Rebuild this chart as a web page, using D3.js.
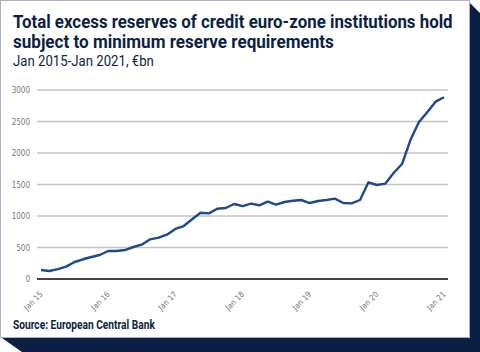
<!DOCTYPE html>
<html>
<head>
<meta charset="utf-8">
<script src="https://cdn.jsdelivr.net/npm/d3@7"></script>
<style>
  body { margin: 0; background: #fff; }
  svg { display: block; }
</style>
</head>
<body>
<div id="chart-area"></div>
<script>
// Data: excess reserves per maintenance period (8 per year), EUR bn
const yearLabels = ['Jan 15', 'Jan 16', 'Jan 17', 'Jan 18', 'Jan 19', 'Jan 20', 'Jan 21'];
const yTicks = [0, 500, 1000, 1500, 2000, 2500, 3000];
const reserves = [
    143, 127, 158, 196, 270, 313, 349, 381,
    444, 444, 460, 508, 545, 630, 656, 703,
    794, 841, 948, 1052, 1042, 1116, 1127, 1190,
    1158, 1196, 1170, 1227, 1180, 1222, 1243, 1254,
    1206, 1238, 1254, 1275, 1206, 1201, 1254, 1535,
    1492, 1513, 1683, 1825, 2206, 2487, 2646, 2815,
    2884
];

const W = 480, H = 352;
const navy = '#0b1f45';

const svg = d3.select('#chart-area')
    .append('svg')
    .attr('width', W)
    .attr('height', H);

// Card shadow
svg.append('path')
    .attr('d', 'M2,338 L470,338 L470,3 L480,13 L480,352 L22,352 Z')
    .attr('fill', navy);

// Card
svg.append('rect')
    .attr('x', 0.5).attr('y', 0.5)
    .attr('width', 469).attr('height', 337)
    .attr('fill', '#fff')
    .attr('stroke', '#a9b2c6')
    .attr('stroke-width', 1);

// Text squeezed horizontally to mimic the condensed face
const titleFont = 'Roboto, sans-serif';
const addText = (str, xPos, yPos, size, weight, targetWidth) => {
    const t = svg.append('text')
        .attr('font-family', titleFont)
        .attr('font-weight', weight)
        .attr('font-size', size + 'px')
        .attr('fill', navy)
        .text(str);
    const k = Math.min(1, targetWidth / t.node().getComputedTextLength());
    t.attr('transform', 'translate(' + xPos + ',' + yPos + ') scale(' + k + ',1)');
    return t;
};

addText('Total excess reserves of credit euro-zone institutions hold', 13, 28, 18, 'bold', 440);
addText('subject to minimum reserve requirements', 13, 48, 18, 'bold', 321);
addText('Jan 2015-Jan 2021, €bn', 13, 66, 14, 'normal', 141);
addText('Source: European Central Bank', 13, 329, 12, 'bold', 142);

// Scales
const x = d3.scaleLinear()
    .domain([0, reserves.length - 1])
    .range([41, 444]);

const y = d3.scaleLinear()
    .domain([0, 3000])
    .range([279, 90]);

const tickFont = '"DejaVu Sans Condensed", "Liberation Sans Narrow", sans-serif';

// Gridlines
svg.append('g')
    .selectAll('line')
    .data(yTicks.filter(d => d > 0))
    .enter()
    .append('line')
    .attr('x1', 37).attr('x2', 448)
    .attr('y1', d => y(d)).attr('y2', d => y(d))
    .attr('stroke', '#c4c4c4')
    .attr('stroke-width', 1.3);

// Y axis labels
const yAxis = svg.append('g')
    .attr('transform', 'translate(37,0)')
    .call(d3.axisLeft(y)
        .tickValues(yTicks)
        .tickFormat(d3.format('d'))
        .tickSize(0)
        .tickPadding(7));
yAxis.select('.domain').remove();
yAxis.selectAll('text')
    .attr('font-family', tickFont)
    .attr('font-size', '8px')
    .attr('fill', '#777');

// Zero line
svg.append('line')
    .attr('x1', 37).attr('x2', 448)
    .attr('y1', y(0)).attr('y2', y(0))
    .attr('stroke', '#444')
    .attr('stroke-width', 2);

// X axis labels (rotated)
const xAxis = svg.append('g')
    .attr('transform', 'translate(0,' + (y(0) + 14) + ')')
    .call(d3.axisBottom(x)
        .tickValues(d3.range(0, reserves.length, 8))
        .tickFormat((d, i) => yearLabels[i])
        .tickSize(0)
        .tickPadding(0));
xAxis.select('.domain').remove();
xAxis.selectAll('text')
    .attr('font-family', tickFont)
    .attr('font-size', '8px')
    .attr('fill', '#777')
    .attr('text-anchor', 'end')
    .attr('dy', '0.3em')
    .attr('transform', 'rotate(-45)');

// Line
const line = d3.line()
    .x((d, i) => x(i))
    .y(d => y(d));

svg.append('path')
    .datum(reserves)
    .attr('d', line)
    .attr('fill', 'none')
    .attr('stroke', '#1c4a8c')
    .attr('stroke-width', 2.4)
    .attr('stroke-linejoin', 'round');
</script>
</body>
</html>
